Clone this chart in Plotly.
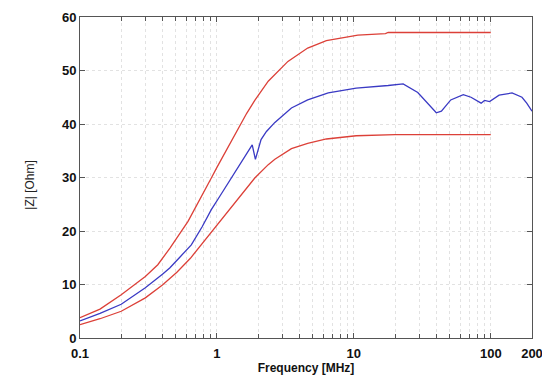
import numpy as np
import plotly.graph_objects as go

# Frequency [MHz] and |Z| [Ohm]
upper_f = [0.1, 0.14, 0.2, 0.3, 0.37, 0.454, 0.615, 0.75, 0.91, 1.0, 1.21, 1.43, 1.65, 1.89, 2.37, 3.3, 4.6, 6.3, 10.7, 17.0, 17.8, 30, 50, 100]
upper_z = [3.8, 5.4, 8.1, 11.5, 13.7, 16.8, 21.8, 25.8, 29.9, 31.9, 35.8, 39.3, 42.0, 44.4, 48.0, 51.7, 54.2, 55.6, 56.6, 56.9, 57.1, 57.1, 57.1, 57.1]

lower_f = [0.1, 0.14, 0.2, 0.3, 0.4, 0.51, 0.64, 0.85, 1.14, 1.59, 1.89, 2.37, 2.65, 3.5, 4.6, 6.3, 10.4, 20, 50, 100]
lower_z = [2.5, 3.6, 5.0, 7.5, 9.9, 12.3, 14.9, 18.8, 23.0, 27.5, 29.9, 32.4, 33.4, 35.4, 36.4, 37.2, 37.8, 38.0, 38.0, 38.0]

blue_f = [0.1, 0.14, 0.2, 0.3, 0.4, 0.452, 0.54, 0.65, 0.78, 0.91, 1.05, 1.17, 1.5, 1.81, 1.91, 2.1, 2.3, 2.65, 3.5, 4.6, 6.5, 10.4, 17.8, 22.9, 29.3, 34.8, 40, 43.6, 51, 63, 71.7, 85, 90, 98, 115, 143, 169, 183, 200]
blue_z = [3.2, 4.6, 6.3, 9.4, 11.9, 13.1, 15.2, 17.4, 20.8, 24.0, 26.5, 28.4, 32.8, 36.1, 33.4, 37.1, 38.6, 40.3, 43.0, 44.5, 45.8, 46.7, 47.2, 47.5, 45.9, 43.9, 42.1, 42.4, 44.5, 45.5, 45.0, 43.9, 44.4, 44.2, 45.4, 45.8, 45.0, 43.9, 42.4]

x_tickvals = [0.1, 1, 10, 100, 200]
x_ticktext = ["0.1", "1", "10", "100", "200"]
y_tickvals = [0, 10, 20, 30, 40, 50, 60]

minor_vals = [m * d for d in (0.1, 1, 10) for m in range(2, 10)]

red = "#dc4038"
blue = "#3a3ac4"

fig = go.Figure()
fig.add_trace(go.Scatter(x=upper_f, y=upper_z, mode="lines", line=dict(color=red, width=1.3), showlegend=False))
fig.add_trace(go.Scatter(x=lower_f, y=lower_z, mode="lines", line=dict(color=red, width=1.3), showlegend=False))
fig.add_trace(go.Scatter(x=blue_f, y=blue_z, mode="lines", line=dict(color=blue, width=1.3), showlegend=False))

font_fam = "Liberation Sans, Arial, sans-serif"
grid_c = "#e2e2e2"
fig.update_layout(
    width=550, height=387,
    margin=dict(l=72, r=26, t=9, b=57, autoexpand=False),
    paper_bgcolor="white", plot_bgcolor="white",
    font=dict(family=font_fam, color="#111"),
    annotations=[dict(text="|Z| [Ohm]", textangle=-90, xref="paper", yref="paper",
                      x=-0.111, y=0.477, xanchor="center", yanchor="middle",
                      showarrow=False, font=dict(size=12, family=font_fam, color="#222"))],
)
fig.update_xaxes(
    type="log", range=[np.log10(0.1), np.log10(200)], automargin=False,
    tickmode="array", tickvals=x_tickvals, ticktext=x_ticktext,
    tickfont=dict(size=13, family=font_fam, weight="bold"), ticklabelstandoff=3,
    showgrid=True, gridcolor=grid_c, griddash="dot", gridwidth=1,
    ticks="inside", ticklen=5, tickcolor="#555",
    minor=dict(tickmode="array", tickvals=minor_vals, showgrid=True, gridcolor=grid_c,
               griddash="dot", gridwidth=1, ticks="inside", ticklen=4, tickcolor="#555"),
    showline=True, linecolor="#555", linewidth=1, mirror="allticks",
    title=dict(text="Frequency [MHz]", font=dict(size=12, family=font_fam, weight="bold"), standoff=3),
    zeroline=False,
)
fig.update_yaxes(
    range=[0, 60], tickmode="array", tickvals=y_tickvals, automargin=False,
    tickfont=dict(size=13, family=font_fam, weight="bold"),
    showgrid=True, gridcolor=grid_c, griddash="dot", gridwidth=1,
    ticks="inside", ticklen=5, tickcolor="#555",
    showline=True, linecolor="#555", linewidth=1, mirror="allticks",
    zeroline=False,
)
fig.write_html("out.html")
